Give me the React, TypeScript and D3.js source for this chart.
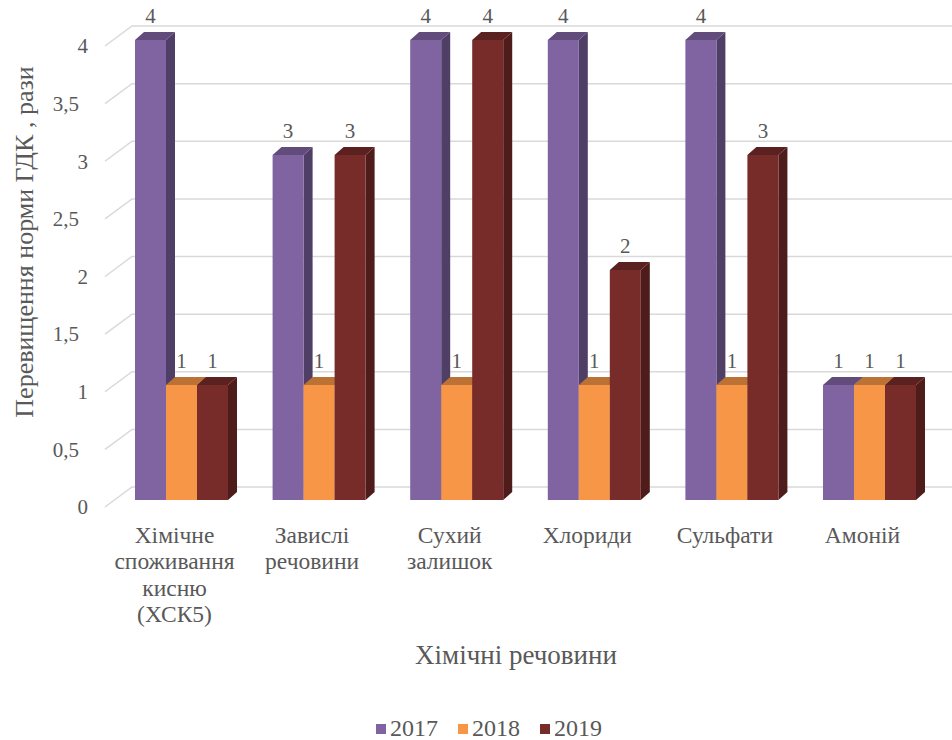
import React from 'react';
import * as d3 from 'd3';

const categories = ['Хімічне споживання кисню (ХСК5)', 'Завислі речовини', 'Сухий залишок', 'Хлориди', 'Сульфати', 'Амоній'];
const categoryLines = [
  ['Хімічне', 'споживання', 'кисню', '(ХСК5)'],
  ['Завислі', 'речовини'],
  ['Сухий', 'залишок'],
  ['Хлориди'],
  ['Сульфати'],
  ['Амоній'],
];
const years = ['2017', '2018', '2019'];
const values2017 = [4, 3, 4, 4, 4, 1];
const values2018 = [1, 1, 1, 1, 1, 1];
const values2019 = [1, 3, 4, 2, 3, 1];
const yTicks = [0, 0.5, 1, 1.5, 2, 2.5, 3, 3.5, 4];

const W = 952;
const H = 740;
const TEXT = '#595959';
const serif = { fontFamily: 'Liberation Serif' };

// colours per series: front, top, side
const palette = [
  { front: '#8064A2', top: '#614C7B', side: '#4F3E66' },
  { front: '#F79646', top: '#BC7135', side: '#A0602D' },
  { front: '#772C2A', top: '#5A2120', side: '#4E1C1B' },
];

export default function App() {
  const series = [values2017, values2018, values2019];

  // front plane of the bars
  const y = d3.scaleLinear().domain([0, 4]).range([500, 40]);
  // floor front edge (tick labels sit on it)
  const yAxis = d3.scaleLinear().domain([0, 4]).range([507, 46]);
  const wallDx = 27, wallDy = -20; // back wall offset from floor front
  const axisX = 105;
  const depthDx = 9, depthDy = -8; // bar depth

  const x0 = d3.scaleBand<string>().domain(categories).range([112.7, 938.3]).paddingInner(0.324).paddingOuter(0.162);
  const x1 = d3.scaleBand<string>().domain(years).range([0, x0.bandwidth()]);
  const bw = x1.bandwidth();

  const fmt = (v: number) => String(v).replace('.', ',');

  return (
    <div style={{ position: 'absolute', left: 0, top: 0, width: W, height: H, background: '#fff' }}>
      <svg width={W} height={H} style={{ display: 'block' }}>
        {/* gridlines on floor diagonal + back wall */}
        <g>
          {yTicks.map((t) => {
            const fy = yAxis(t);
            return (
              <polyline
                key={t}
                points={`${axisX},${fy} ${axisX + wallDx},${fy + wallDy} ${W},${fy + wallDy}`}
                fill="none"
                stroke="#D9D9D9"
                strokeWidth={1.5}
              />
            );
          })}
        </g>

        {/* tick labels */}
        <g fontSize={21} fill={TEXT}>
          {yTicks.map((t) => (
            <text key={t} x={Number.isInteger(t) ? 88 : 79} y={yAxis(t)} dy="0.35em" textAnchor="end" style={serif}>
              {fmt(t)}
            </text>
          ))}
        </g>

        {/* bars */}
        {categories.map((c, ci) => (
          <g key={c}>
            {years.map((yr, si) => {
              const v = series[si][ci];
              const left = (x0(c) ?? 0) + (x1(yr) ?? 0);
              const right = left + bw;
              const top = y(v);
              const bottom = y(0);
              const col = palette[si];
              return (
                <g key={yr}>
                  <polygon
                    points={`${right},${top} ${right + depthDx},${top + depthDy} ${right + depthDx},${bottom + depthDy} ${right},${bottom}`}
                    fill={col.side}
                  />
                  <rect x={left} y={top} width={bw} height={bottom - top} fill={col.front} />
                  <polygon
                    points={`${left},${top} ${left + depthDx},${top + depthDy} ${right + depthDx},${top + depthDy} ${right},${top}`}
                    fill={col.top}
                  />
                </g>
              );
            })}
          </g>
        ))}

        {/* data labels */}
        <g fontSize={21} fill={TEXT} textAnchor="middle">
          {categories.map((c, ci) =>
            years.map((yr, si) => {
              const v = series[si][ci];
              const cx = (x0(c) ?? 0) + (x1(yr) ?? 0) + bw / 2;
              return (
                <text key={c + yr} x={cx} y={y(v) + depthDy - 9} style={serif}>
                  {v}
                </text>
              );
            })
          )}
        </g>

        {/* category labels */}
        <g fontSize={23.5} fill={TEXT} textAnchor="middle">
          {categories.map((c, ci) => {
            const cx = (x0(c) ?? 0) + x0.bandwidth() / 2 - 7;
            return (
              <text key={c} x={cx} y={543} style={serif}>
                {categoryLines[ci].map((l, li) => (
                  <tspan key={li} x={cx} dy={li === 0 ? 0 : 26.3}>
                    {l}
                  </tspan>
                ))}
              </text>
            );
          })}
        </g>

        {/* axis titles */}
        <text x={516} y={664} fontSize={27} fill={TEXT} textAnchor="middle" style={serif}>
          Хімічні речовини
        </text>
        <text transform={`translate(33,242) rotate(-90)`} fontSize={26} fill={TEXT} textAnchor="middle" style={serif}>
          Перевищення норми ГДК , рази
        </text>

        {/* legend */}
        <g fontSize={24} fill={TEXT}>
          {years.map((yr, si) => {
            const lx = 376 + si * 82;
            return (
              <g key={yr}>
                <rect x={lx} y={724} width={10} height={10} fill={palette[si].front} />
                <text x={lx + 14} y={736} style={serif}>
                  {yr}
                </text>
              </g>
            );
          })}
        </g>
      </svg>
    </div>
  );
}
